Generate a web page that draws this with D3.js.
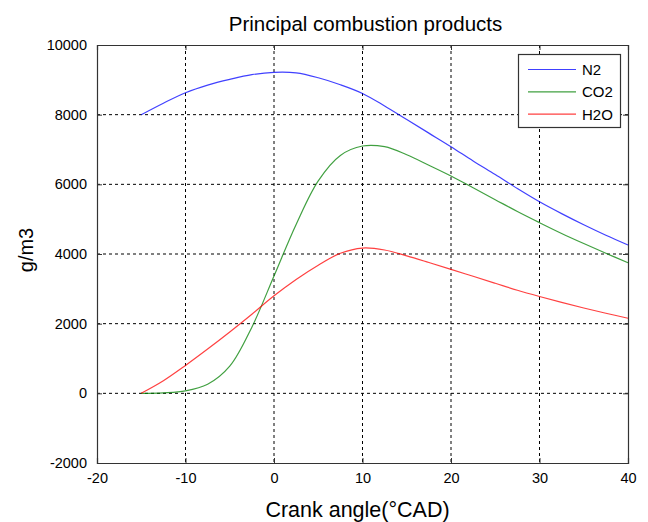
<!DOCTYPE html>
<html><head><meta charset="utf-8">
<script src="https://cdn.jsdelivr.net/npm/d3@7"></script>
<style>body{margin:0;background:#fff}svg{display:block}text{font-family:"Liberation Sans",Arial,sans-serif}</style>
</head><body>
<script>
const angles = [-15,-12.5,-10,-7.5,-5,-2.5,0,2.5,5,7.5,10,12.5,15,17.5,20,22.5,25,27.5,30,32.5,35,37.5,40];
const n2  = [8000,8330,8630,8850,9015,9150,9215,9200,9060,8860,8610,8250,7860,7470,7080,6670,6280,5880,5500,5160,4840,4540,4260];
const co2 = [0,15,70,260,780,1900,3370,4850,6100,6830,7100,7080,6850,6550,6240,5900,5560,5220,4900,4590,4300,4020,3750];
const h2o = [0,360,800,1270,1760,2270,2800,3270,3680,4020,4170,4115,3945,3755,3560,3360,3160,2960,2780,2610,2450,2300,2155];
const seriesNames = ["N2","CO2","H2O"];
const seriesColors = ["#0000ff","#008000","#ff0000"];
const xTicks = [-20,-10,0,10,20,30,40];
const yTicks = [-2000,0,2000,4000,6000,8000,10000];
const titleText = "Principal combustion products";
const xLabel = "Crank angle(°CAD)";
const yLabel = "g/m3";

const W=648,H=522, L=97,R=628,T=45,B=463;
const svg=d3.select("body").append("svg").attr("width",W).attr("height",H);
const x=d3.scaleLinear().domain([-20,40]).range([L,R]);
const y=d3.scaleLinear().domain([-2000,10000]).range([B,T]);

// grid
const g=svg.append("g");
g.selectAll(".vx").data(xTicks.slice(1,-1)).join("line")
 .attr("x1",d=>x(d)).attr("x2",d=>x(d)).attr("y1",T).attr("y2",B)
 .attr("stroke","#000").attr("stroke-width",1).attr("stroke-dasharray","3,3");
g.selectAll(".hy").data(yTicks.slice(1,-1)).join("line")
 .attr("y1",d=>y(d)).attr("y2",d=>y(d)).attr("x1",L).attr("x2",R)
 .attr("stroke","#000").attr("stroke-width",1).attr("stroke-dasharray","3,3");

// axes
const fmt=d=>String(d);
const ax=d3.axisBottom(x).tickValues(xTicks).tickSize(-5).tickPadding(10).tickFormat(fmt);
const ay=d3.axisLeft(y).tickValues(yTicks).tickSize(-5).tickPadding(10).tickFormat(fmt);
const gx=svg.append("g").attr("transform",`translate(0,${B})`).call(ax);
const gy=svg.append("g").attr("transform",`translate(${L},0)`).call(ay);
const gx2=svg.append("g").attr("transform",`translate(0,${T})`).call(d3.axisTop(x).tickValues(xTicks).tickSize(-5).tickFormat(""));
const gy2=svg.append("g").attr("transform",`translate(${R},0)`).call(d3.axisRight(y).tickValues(yTicks).tickSize(-5).tickFormat(""));
[gx,gy,gx2,gy2].forEach(a=>{a.select(".domain").attr("stroke","#333").attr("stroke-width",1.2);
 a.selectAll(".tick line").attr("stroke","#333");
 a.selectAll("text").attr("font-size",14.5).attr("fill","#000").attr("font-family","Liberation Sans, Arial, sans-serif");});

// lines
const line=d3.line().x((d,i)=>x(angles[i])).y(d=>y(d)).curve(d3.curveCatmullRom.alpha(0.5));
[n2,co2,h2o].forEach((s,i)=>{
 svg.append("path").attr("d",line(s)).attr("fill","none").attr("stroke",seriesColors[i]).attr("stroke-width",1.2).attr("stroke-opacity",0.75);
});

// legend
const lg=svg.append("g");
lg.append("rect").attr("x",518.5).attr("y",54.5).attr("width",102).attr("height",73).attr("fill","#fff").attr("stroke","#333").attr("stroke-width",1.2);
seriesNames.forEach((n,i)=>{
 const yy=69.5+i*22.3;
 lg.append("line").attr("x1",528).attr("x2",576).attr("y1",yy).attr("y2",yy).attr("stroke",seriesColors[i]).attr("stroke-width",1.2).attr("stroke-opacity",0.75);
 lg.append("text").attr("x",582).attr("y",yy+5.5).attr("font-size",15).text(n);
});

// labels
svg.append("text").attr("x",(L+R)/2+3).attr("y",31).attr("text-anchor","middle").attr("font-size",20.5).text(titleText);
svg.append("text").attr("x",(L+R)/2-5).attr("y",517).attr("text-anchor","middle").attr("font-size",21.5).text(xLabel);
svg.append("text").attr("transform",`translate(33,250) rotate(-90)`).attr("text-anchor","middle").attr("font-size",20).text(yLabel);
</script>
</body></html>
